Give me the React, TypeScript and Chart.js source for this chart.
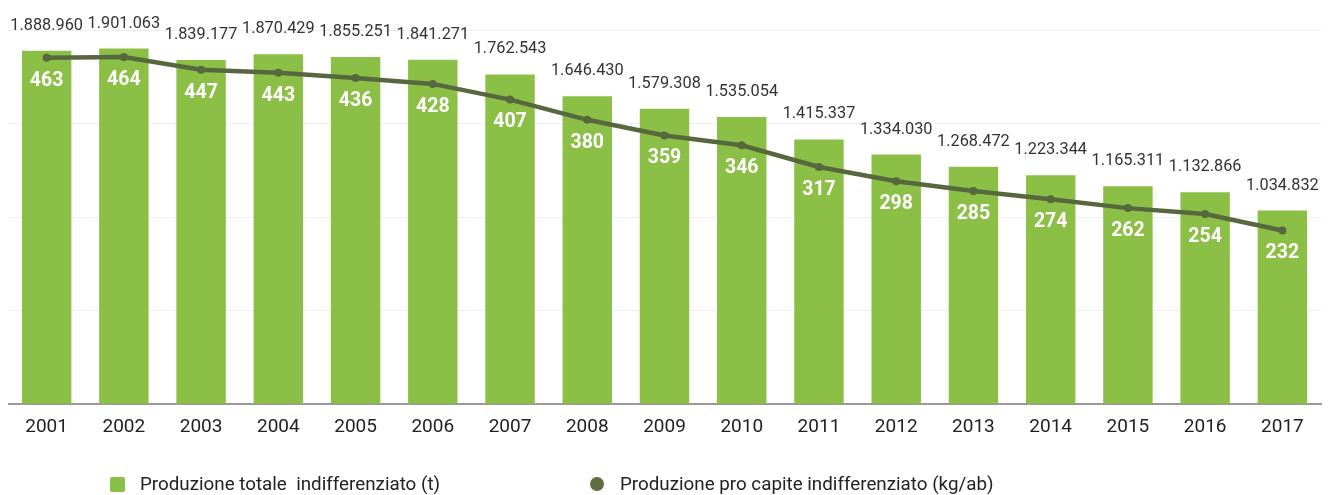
import React, { useEffect, useRef } from "react";
import { Chart, registerables } from "chart.js";

Chart.register(...registerables);

const years = ["2001","2002","2003","2004","2005","2006","2007","2008","2009","2010","2011","2012","2013","2014","2015","2016","2017"];
const totals = [1888960,1901063,1839177,1870429,1855251,1841271,1762543,1646430,1579308,1535054,1415337,1334030,1268472,1223344,1165311,1132866,1034832];
const perCapita = [463,464,447,443,436,428,407,380,359,346,317,298,285,274,262,254,232];
const legendLabels = ["Produzione totale  indifferenziato (t)", "Produzione pro capite indifferenziato (kg/ab)"];

const BAR_COLOR = "#8bbf45";
const LINE_COLOR = "#57683f";
const FONT = "Roboto, 'Noto Sans', sans-serif";

const fmt = (n: number) => String(n).replace(/\B(?=(\d{3})+(?!\d))/g, ".");

const labelsPlugin = {
  id: "customLabels",
  afterDatasetsDraw(chart: any) {
    const ctx = chart.ctx;
    ctx.save();
    const barMeta = chart.getDatasetMeta(0);
    ctx.font = `16.3px ${FONT}`;
    ctx.fillStyle = "#333";
    ctx.textAlign = "center";
    ctx.textBaseline = "middle";
    barMeta.data.forEach((el: any, i: number) => {
      ctx.fillText(fmt(totals[i]), el.x, el.y - 25);
    });
    const lineMeta = chart.getDatasetMeta(1);
    ctx.font = `bold 19.5px ${FONT}`;
    ctx.fillStyle = "#ffffff";
    lineMeta.data.forEach((el: any, i: number) => {
      ctx.fillText(String(perCapita[i]), el.x, el.y + 23);
    });
    // legend
    ctx.textAlign = "left";
    ctx.font = `18.8px ${FONT}`;
    const ly = 476;
    ctx.fillStyle = BAR_COLOR;
    ctx.beginPath();
    (ctx as any).roundRect(102, ly - 7, 15, 15, 2);
    ctx.fill();
    ctx.fillStyle = "#222";
    ctx.fillText(legendLabels[0], 132, ly + 1);
    ctx.fillStyle = "#5e6e42";
    ctx.beginPath();
    ctx.arc(589, ly, 7, 0, Math.PI * 2);
    ctx.fill();
    ctx.fillStyle = "#222";
    ctx.fillText(legendLabels[1], 612, ly + 1);
    ctx.restore();
  },
};

export default function App() {
  const ref = useRef<HTMLCanvasElement | null>(null);
  useEffect(() => {
    if (!ref.current) return;
    const chart = new Chart(ref.current, {
      type: "bar",
      data: {
        labels: years,
        datasets: [
          {
            type: "bar",
            data: totals,
            backgroundColor: BAR_COLOR,
            barPercentage: 0.64,
            categoryPercentage: 1,
            yAxisID: "y",
            order: 2,
          },
          {
            type: "line",
            data: perCapita,
            borderColor: LINE_COLOR,
            backgroundColor: LINE_COLOR,
            borderWidth: 4.5,
            pointRadius: 4,
            pointBackgroundColor: LINE_COLOR,
            pointBorderWidth: 0,
            tension: 0,
            yAxisID: "y1",
            order: 1,
          } as any,
        ],
      },
      options: {
        responsive: false,
        animation: false,
        layout: { autoPadding: false, padding: { left: 0, right: 1, top: 22, bottom: 44 } },
        plugins: { legend: { display: false }, tooltip: { enabled: false } },
        scales: {
          x: {
            grid: { display: false, drawTicks: false },
            border: { display: true, color: "#999", width: 2 },
            ticks: { color: "#222", font: { family: FONT, size: 19 }, padding: 12 },
          },
          y: {
            min: 0,
            max: 2000000,
            ticks: { display: false, stepSize: 500000 },
            grid: { color: "#eeeeee", drawTicks: false },
            border: { display: false },
            afterFit(scale: any) { scale.width = 0; },
          },
          y1: {
            display: false,
            min: 0,
            max: 500,
          },
        },
      },
      plugins: [labelsPlugin],
    });
    return () => chart.destroy();
  }, []);
  return <canvas ref={ref} width={1314} height={487} style={{ display: "block" }} />;
}
